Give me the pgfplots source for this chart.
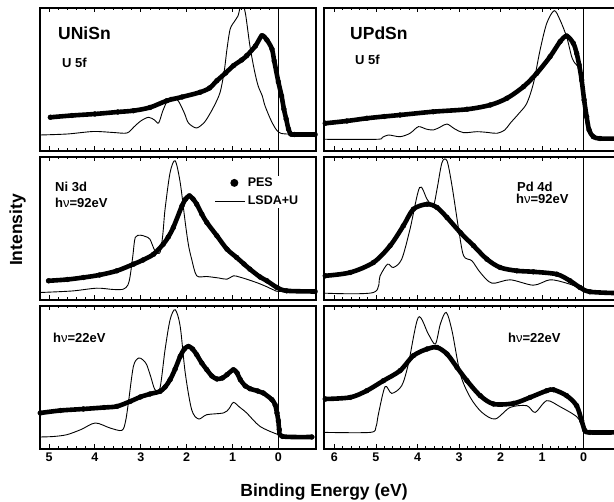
\documentclass[border=0pt]{standalone}
\usepackage{fontspec}
\setmainfont{Liberation Sans}
\usepackage{pgfplots}
\pgfplotsset{compat=1.18}

\pgfplotsset{
  panel/.style={
    scale only axis, height=143pt, anchor=south west,
    x dir=reverse, ymin=0, ymax=143,
    axis line style={line width=1.3pt},
    tick align=inside, tick style={black, line width=0.8pt},
    major tick length=4.5pt, minor tick length=2.5pt,
    minor x tick num=4,
    ytick=\empty, minor ytick={11,22,...,132},
    tick label style={font=\fontsize{12.5}{13}\selectfont\bfseries},
  },
  leftcol/.style={panel, width=276pt, xmin=-0.82, xmax=5.196, xtick={0,...,5}, xticklabels={0,1,2,3,4,5}},
  rightcol/.style={panel, width=296pt, xmin=-0.873, xmax=6.25, xtick={0,...,6}, xticklabels={0,1,2,3,4,5,6}},
  nolabels/.style={xticklabels={}},
  pes/.style={black, line width=4.6pt, smooth, tension=0.5, line cap=round, line join=round,
    mark=*, mark size=2.5pt, mark options={line width=0.3pt}},
  lsda/.style={black, line width=0.9pt, smooth, tension=0.5},
}
\tikzset{
  efermi/.style={black, line width=0.6pt},
  lab/.style={font=\fontsize{13}{15}\selectfont\bfseries, anchor=base west, inner sep=0pt},
  ttl/.style={font=\fontsize{17.5}{20}\selectfont\bfseries, anchor=base west, inner sep=0pt},
}

\begin{document}
\begin{tikzpicture}
\useasboundingbox (0pt,0pt) rectangle (614pt,502pt);

% ---------- UNiSn, U 5f ----------
\begin{axis}[leftcol, nolabels, at={(40pt,351pt)}]
\addplot[lsda] coordinates {(5.19,16) (4.6,17) (4.03,19.5) (3.6,18.5) (3.30,18) (3.15,24) (3.0,30) (2.83,33.7) (2.70,31) (2.61,28) (2.52,40) (2.40,52) (2.29,53.7) (2.18,50) (2.05,38) (1.96,28) (1.79,23) (1.65,27) (1.56,32) (1.40,45) (1.27,58.7) (1.18,80) (1.12,102) (1.05,122) (0.95,130) (0.88,135) (0.80,148) (0.72,138) (0.62,105) (0.52,80) (0.44,65) (0.35,55) (0.29,45) (0.14,28.7) (0.0,19) (-0.18,17) (-0.8,16.5)};
\addplot[pes] coordinates {(4.97,33.7) (4.5,35.5) (4.0,37) (3.5,39) (3.16,40.3) (2.8,43.5) (2.43,50.3) (2.1,54) (1.71,58.7) (1.50,63) (1.34,70.3) (1.15,78) (0.98,85.3) (0.80,91) (0.69,95.3) (0.50,105) (0.36,115.3) (0.25,111) (0.14,102) (0.09,90) (0.0,69) (-0.07,55) (-0.12,42) (-0.17,32) (-0.22,22) (-0.27,17) (-0.35,16.5) (-0.80,16.5)};
\draw[efermi] (axis cs:0,0) -- (axis cs:0,143);
\end{axis}

% ---------- UNiSn, Ni 3d 92 eV ----------
\begin{axis}[leftcol, nolabels, at={(40pt,202pt)},
  legend style={at={(0.633,0.87)}, anchor=north west, draw=none, fill=white, inner sep=0pt,
    font=\fontsize{12.5}{14}\selectfont\bfseries, row sep=4pt},
  legend cell align=left]
\addplot[lsda, forget plot] coordinates {(5.19,7.5) (4.5,9) (3.96,11.8) (3.6,10.5) (3.38,10.8) (3.28,15) (3.23,24.2) (3.17,45) (3.12,62.5) (3.01,64.8) (2.90,63.5) (2.80,60.8) (2.69,49.2) (2.58,47.5) (2.52,65) (2.47,90.8) (2.36,127.5) (2.25,139.2) (2.14,117.5) (2.03,77.5) (1.96,55) (1.89,40.8) (1.78,24.2) (1.56,23.5) (1.30,22) (1.12,20.8) (0.98,24.2) (0.85,23) (0.69,20.8) (0.45,17) (0.25,13.2) (0.10,10) (-0.04,8.5) (-0.80,8.5)};
\addplot[pes, forget plot] coordinates {(5.01,19.2) (4.6,20.5) (4.25,22.5) (3.9,25) (3.52,29.2) (3.16,35.8) (2.95,40) (2.72,45.8) (2.51,55.8) (2.40,63) (2.29,72.5) (2.10,94.2) (2.02,101) (1.94,104.2) (1.86,101) (1.78,95.8) (1.67,86) (1.56,77.5) (1.34,64.2) (1.12,50.8) (0.91,42.5) (0.75,36) (0.62,30.8) (0.40,23) (0.25,19.2) (0.03,12.5) (-0.18,9.2) (-0.80,8.5)};
\draw[efermi] (axis cs:0,0) -- (axis cs:0,143);
\addlegendimage{legend image code/.code={\path[draw=none, fill=none, opacity=0] (0pt,-1pt) rectangle (30pt,1pt); \fill[black, draw=none] (19pt,0pt) circle (4pt);}}
\addlegendentry{PES}
\addlegendimage{legend image code/.code={\draw[black, line width=0.9pt] (0pt,0pt) -- (30pt,0pt);}}
\addlegendentry{LSDA+U}
\end{axis}

% ---------- UNiSn, 22 eV ----------
\begin{axis}[leftcol, at={(40pt,53pt)}]
\addplot[lsda] coordinates {(5.19,12) (4.9,12.5) (4.61,14.3) (4.3,19.5) (3.99,26) (3.67,21) (3.41,18.6) (3.33,28) (3.27,46) (3.16,82.6) (3.05,91) (2.95,89) (2.87,84.3) (2.78,72) (2.69,59.3) (2.58,61) (2.47,99.3) (2.36,129.3) (2.25,139.3) (2.14,122.6) (2.03,76) (1.89,39.3) (1.74,30) (1.56,34.3) (1.20,36) (1.08,40) (0.98,46.6) (0.85,42) (0.69,36) (0.40,22.6) (0.0,14.3) (-0.18,12.6) (-0.73,12)};
\addplot[pes] coordinates {(5.19,36) (4.75,38.5) (4.25,40) (3.8,41.5) (3.52,42.6) (3.23,47.6) (3.01,52) (2.80,55) (2.58,57.6) (2.47,62) (2.36,69.3) (2.25,80) (2.14,92.6) (2.05,100) (1.96,102.6) (1.87,100) (1.78,94.3) (1.67,86) (1.56,79.3) (1.45,73) (1.34,70) (1.22,71) (1.12,74.3) (0.98,79.3) (0.90,76) (0.83,69.3) (0.72,63) (0.62,60.3) (0.45,58) (0.33,56) (0.14,49.3) (0.07,44) (0.03,36) (0.0,28) (-0.02,19.3) (-0.09,12.6) (-0.73,12)};
\draw[efermi] (axis cs:0,0) -- (axis cs:0,143);
\end{axis}

% ---------- UPdSn, U 5f ----------
\begin{axis}[rightcol, nolabels, at={(324pt,351pt)}]
\addplot[lsda] coordinates {(6.22,11.7) (4.98,11.7) (4.85,13.5) (4.70,16) (4.42,14.3) (4.18,17.7) (3.98,24.3) (3.80,22) (3.62,21) (3.45,24) (3.29,27) (3.10,22) (2.89,18.3) (2.57,19.3) (2.30,18.5) (2.09,17.7) (1.90,21) (1.77,27.7) (1.55,38) (1.37,47.7) (1.21,67.7) (1.05,101) (0.89,127.7) (0.71,140.3) (0.57,131) (0.41,114) (0.29,94.3) (0.21,87.7) (0.13,84.3) (0.05,74.3) (0.01,51) (-0.07,24.3) (-0.15,16) (-0.3,12.5) (-0.85,12.5)};
\addplot[pes] coordinates {(6.22,27.7) (5.7,30) (5.22,32.7) (4.8,34.5) (4.42,36) (3.62,39.3) (2.81,41.7) (2.25,46) (1.85,52.7) (1.45,64.3) (1.13,77.7) (0.81,94.3) (0.57,109.3) (0.41,115) (0.25,107.7) (0.17,97.7) (0.11,86) (0.05,71) (-0.01,51) (-0.07,34.3) (-0.13,21) (-0.23,14.3) (-0.39,12.5) (-0.85,12.5)};
\draw[efermi] (axis cs:0,0) -- (axis cs:0,143);
\end{axis}

% ---------- UPdSn, Pd 4d 92 eV ----------
\begin{axis}[rightcol, nolabels, at={(324pt,202pt)}]
\addplot[lsda] coordinates {(6.22,6.8) (5.06,7.5) (4.90,24.2) (4.72,35.8) (4.58,32.5) (4.38,40.8) (4.18,70.8) (3.95,112.5) (3.77,100.8) (3.62,94.2) (3.53,110.8) (3.41,137.5) (3.29,139.2) (3.17,114.2) (3.01,70.8) (2.89,44.2) (2.69,39.2) (2.49,27.5) (2.21,16.8) (1.77,20.2) (1.21,14.8) (0.81,20.2) (0.41,16.8) (0.01,10.8) (-0.2,7) (-0.85,6.8)};
\addplot[pes] coordinates {(6.22,24.2) (5.62,27.5) (5.06,37.5) (4.66,54.2) (4.34,74.2) (4.10,90.8) (3.77,95.8) (3.53,92.5) (3.29,82.5) (2.97,67.5) (2.65,54.2) (2.33,40.8) (2.01,32.5) (1.61,29.2) (1.21,28.2) (0.65,25.8) (0.33,19.2) (0.09,12.5) (-0.15,8.2) (-0.85,6.8)};
\draw[efermi] (axis cs:0,0) -- (axis cs:0,143);
\end{axis}

% ---------- UPdSn, 22 eV ----------
\begin{axis}[rightcol, at={(324pt,53pt)}]
\addplot[lsda] coordinates {(6.22,16.6) (5.14,16.6) (5.0,22) (4.94,35) (4.78,62.3) (4.62,55.6) (4.38,63.3) (4.22,85) (3.98,131.6) (3.74,115) (3.57,105) (3.45,125) (3.31,136.6) (3.17,118.3) (2.97,75) (2.73,51.6) (2.45,36.6) (2.13,30) (1.77,41.6) (1.37,43.3) (1.17,36.6) (0.89,48.3) (0.57,42.3) (0.17,32.3) (0.01,21.6) (-0.05,16.6) (-0.85,16.6)};
\addplot[pes] coordinates {(6.22,50) (5.62,51.6) (5.22,58.3) (4.82,68.3) (4.42,78.3) (4.10,93.3) (3.77,100) (3.53,101.6) (3.29,95) (3.05,81.6) (2.81,68.3) (2.49,53.3) (2.17,45) (1.69,45.6) (1.29,51.6) (0.89,58.3) (0.73,59.3) (0.41,53.3) (0.17,43.3) (0.05,28.3) (-0.03,18.3) (-0.15,16.6) (-0.85,16.6)};
\draw[efermi] (axis cs:0,0) -- (axis cs:0,143);
\end{axis}

% labels
\node[ttl] at (58pt,462pt) {UNiSn};
\node[lab] at (62pt,434pt) {U 5f};
\node[ttl] at (350pt,462pt) {UPdSn};
\node[lab] at (355pt,437pt) {U 5f};
\node[lab] at (55pt,310pt) {Ni 3d};
\node[lab] at (55pt,294pt) {h{\mdseries ν}=92eV};
\node[lab] at (517pt,310pt) {Pd 4d};
\node[lab] at (516pt,298pt) {h{\mdseries ν}=92eV};
\node[lab] at (53pt,159pt) {h{\mdseries ν}=22eV};
\node[lab] at (508pt,159pt) {h{\mdseries ν}=22eV};
\node[rotate=90, anchor=base, font=\fontsize{17.5}{20}\selectfont\bfseries] at (22pt,272pt) {Intensity};
\node[anchor=base, font=\fontsize{17.5}{20}\selectfont\bfseries] at (324pt,5.3pt) {Binding Energy (eV)};
\end{tikzpicture}
\end{document}
